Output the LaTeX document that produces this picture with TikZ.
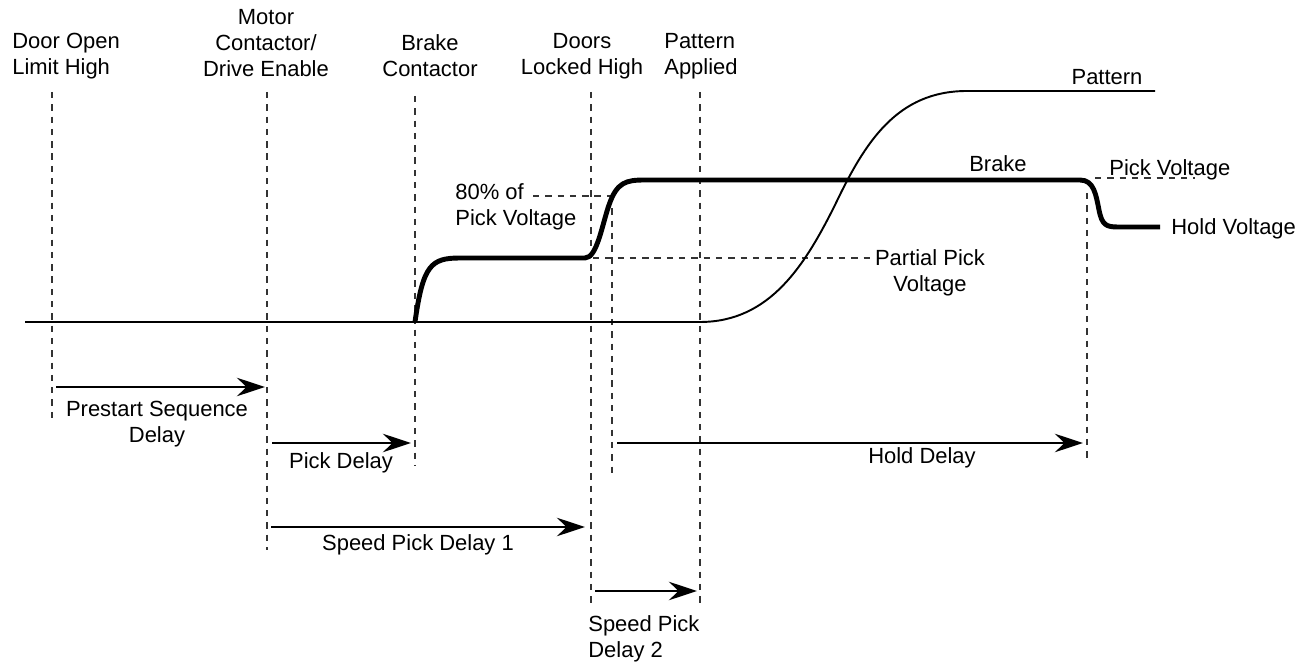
\documentclass[tikz,border=0pt]{standalone}
\usepackage{fontspec}
\setmainfont{Liberation Sans}
\usepackage{tikz}
\usetikzlibrary{arrows.meta}
\usepackage{xcolor}
\definecolor{inkblack}{HTML}{000000}
\definecolor{guidegray}{HTML}{333333}

\begin{document}
\begin{tikzpicture}[x=0.02cm, y=-0.02cm, every node/.style={font=\fontsize{12.5}{14.7}\selectfont, inner sep=0pt, text=inkblack},
  guide/.style={guidegray, line width=0.6pt, dash pattern=on 3.6pt off 3.4pt},
  delay/.style={-{Stealth[length=16pt,width=10.5pt,inset=5.5pt]}, line width=1.3pt, inkblack},
  signal/.style={line width=1.1pt, inkblack},
  brakesig/.style={line width=2.8pt, inkblack, line join=round}]
\useasboundingbox (0,0) rectangle (1306,665);
\node[align=left,anchor=west] (dooropen) at (12,56) {Door Open\\Limit High};
\node[align=center] (motor) at (266,43) {Motor\\Contactor/\\Drive Enable};
\node[align=center] (brakecon) at (430,56) {Brake\\Contactor};
\node[align=center] (doorslock) at (582,56) {Doors\\Locked High};
\node[align=left,anchor=west] (patapp) at (664,56) {Pattern\\Applied};
\foreach \x/\a/\b in {52/92/418,267/92/550,415/96/465,591/92/606,612/196/477,700/92/606,1087/193/460}
  \draw[guide] (\x,\a)--(\x,\b);
\draw[guide] (533,196)--(612,196);
\draw[guide] (593,258)--(872,258);
\draw[guide] (1095,178)--(1195,178);
\draw[signal] (25,322)--(700,322) .. controls (770,322) and (805,265) .. (835,205) .. controls (865,142) and (897,91) .. (967,91)--(1155,91);
\draw[brakesig] (415,322) .. controls (423,265) and (431,258) .. (460,258)--(585,258) .. controls (597,258) and (602,225) .. (609,205) .. controls (617,182) and (626,180) .. (645,180)--(1080,180) .. controls (1094,180) and (1096,195) .. (1099,210) .. controls (1102,225) and (1106,227) .. (1118,227)--(1160,227);
\node (pattern) at (1107,77) {Pattern};
\node (brake) at (998,164) {Brake};
\node[anchor=west] (pickv) at (1109,170) {Pick Voltage};
\node[anchor=west] (holdv) at (1171,229) {Hold Voltage};
\node[align=left,anchor=west] (eighty) at (455,207) {80\% of\\Pick Voltage};
\node[align=center] (partial) at (930,273) {Partial Pick\\Voltage};
\foreach \a/\b/\y in {56/265/387,272/411/443,617/1083/443,271/585/527,595/697/591}
  \draw[delay] (\a,\y)--(\b,\y);
\node[align=center] (prestart) at (157,424) {Prestart Sequence\\Delay};
\node (pickdelay) at (341,463) {Pick Delay};
\node (speedone) at (418,545) {Speed Pick Delay 1};
\node (holddelay) at (922,458) {Hold Delay};
\node[align=left,anchor=west] (speedtwo) at (588,639) {Speed Pick\\Delay 2};
\end{tikzpicture}
\end{document}
